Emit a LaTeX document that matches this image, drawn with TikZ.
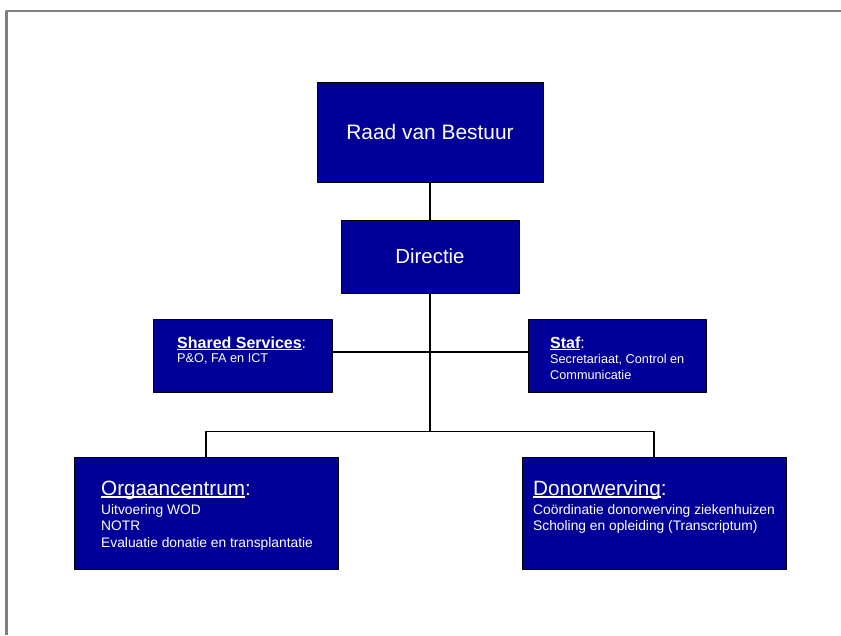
\documentclass[tikz,border=0pt]{standalone}
\usepackage{fontspec}
\setmainfont{Liberation Sans}
\definecolor{boxblue}{RGB}{0,0,153}
\definecolor{framegray}{RGB}{128,128,128}
\newcommand{\ulbox}[1]{\setbox0\hbox{#1}\rlap{\rule[-0.13em]{\wd0}{0.065em}}\box0}
\tikzset{
  orgbox/.style={draw=black,line width=0.8pt,fill=boxblue,text=white,inner sep=0pt},
  link/.style={line width=1.8pt},
  bigtxt/.style={text=white,inner sep=0pt,anchor=base west,font=\fontsize{20.7}{24}\selectfont},
  midtxt/.style={text=white,inner sep=0pt,anchor=base west,font=\fontsize{16}{19}\selectfont},
  subtxt/.style={text=white,inner sep=0pt,anchor=base west,font=\fontsize{13.8}{16}\selectfont},
  smalltxt/.style={text=white,inner sep=0pt,anchor=base west,font=\fontsize{12.7}{15}\selectfont}
}
\begin{document}
\begin{tikzpicture}[x=1pt,y=-1pt,line join=round]
\useasboundingbox (0,0) rectangle (841,635);
% frame
\draw[framegray,line width=2.6pt] (6.3,635) |- (841,10.8);

% boxes
\node[orgbox,minimum width=226pt,minimum height=100pt,font=\fontsize{20.9}{24}\selectfont] (raad) at (430,132) {Raad van Bestuur};
\node[orgbox,minimum width=178pt,minimum height=73pt,font=\fontsize{20.4}{24}\selectfont] (directie) at (430,256.5) {Directie};
\node[orgbox,minimum width=179pt,minimum height=73pt] (shared) at (242.5,355.5) {};
\node[orgbox,minimum width=178pt,minimum height=73pt] (staf) at (617,355.5) {};
\node[orgbox,minimum width=264pt,minimum height=112pt] (organ) at (206,513) {};
\node[orgbox,minimum width=264pt,minimum height=112pt] (donor) at (654,513) {};

% connectors
\coordinate (mid) at (430,352);
\coordinate (split) at (430,431.5);
\draw[link] (raad) -- (directie);
\draw[link] (directie) -- (split);
\draw[link] (shared.east |- mid) -- (staf.west |- mid);
\draw[link] (organ.north) |- (split) -| (donor.north);

% texts
\node[midtxt] (shared-h) at (177,348) {\ulbox{\textbf{Shared Services}}:};
\node[smalltxt] (shared-1) at (177,362) {P\&O, FA en ICT};
\node[midtxt] (staf-h) at (550,348) {\ulbox{\textbf{Staf}}:};
\foreach \txt [count=\i] in {{Secretariaat, Control en},Communicatie}
  \node[smalltxt] (staf-\i) at (550,347+16*\i) {\txt};
\node[bigtxt] (organ-h) at (101,495) {\ulbox{Orgaancentrum}:};
\foreach \txt [count=\i] in {Uitvoering WOD,NOTR,Evaluatie donatie en transplantatie}
  \node[subtxt] (organ-\i) at (101,497.5+16.5*\i) {\txt};
\node[bigtxt] (donor-h) at (533,495) {\ulbox{Donorwerving}:};
\foreach \txt [count=\i] in {Coördinatie donorwerving ziekenhuizen,Scholing en opleiding (Transcriptum)}
  \node[subtxt] (donor-\i) at (533,497.5+16.5*\i) {\txt};
\end{tikzpicture}
\end{document}
